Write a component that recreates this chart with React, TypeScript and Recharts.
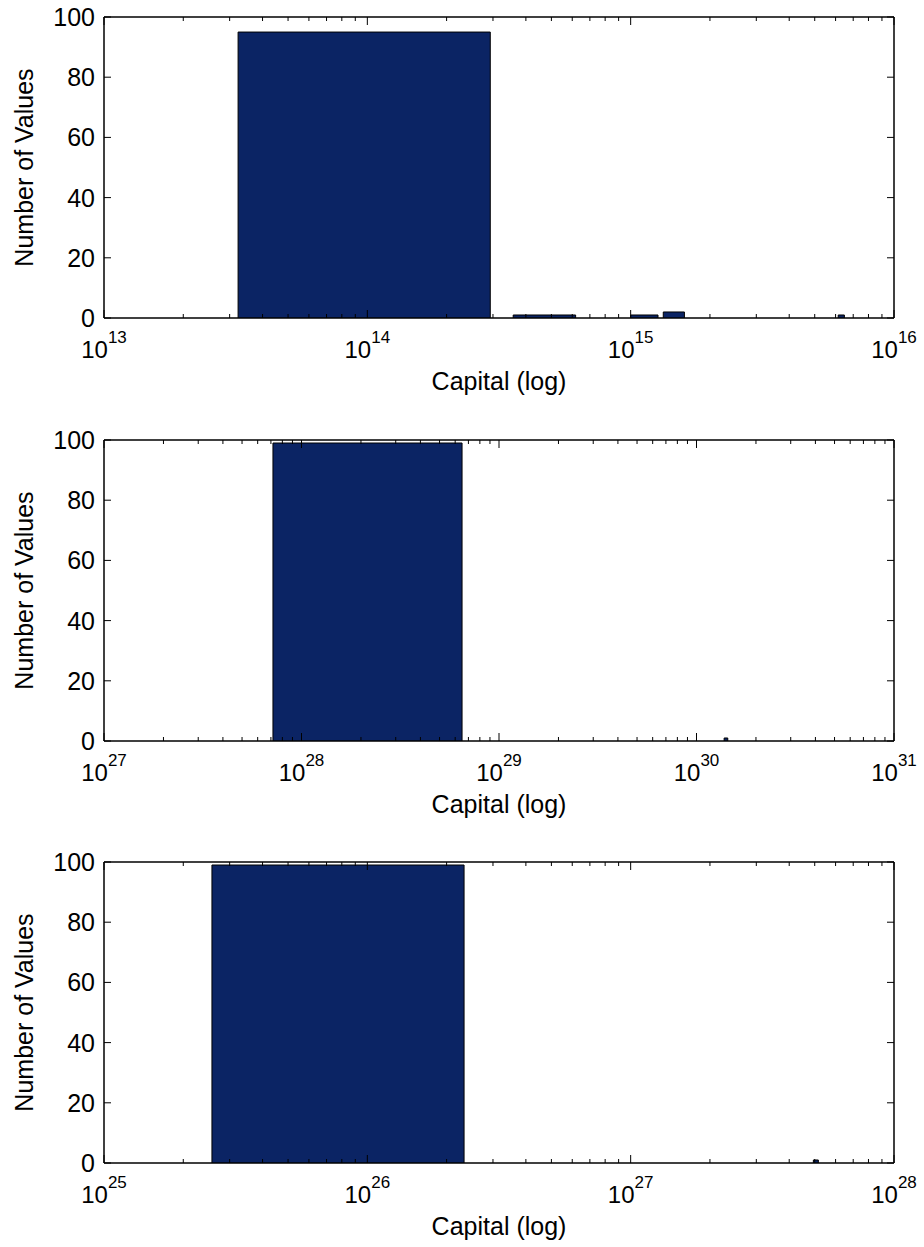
import React from 'react'
import { ComposedChart, XAxis, YAxis, Area } from 'recharts'

// bin edges (capital) and counts for each histogram
const topBinLo = [3.23e13, 3.58e14, 1.0e15, 1.33e15, 6.14e15]
const topBinHi = [2.93e14, 6.18e14, 1.27e15, 1.6e15, 6.48e15]
const topCounts = [95, 1, 1, 2, 1]
const topDecades = [13, 14, 15, 16]

const midBinLo = [7.17e27, 1.38e30]
const midBinHi = [6.5e28, 1.44e30]
const midCounts = [99, 1]
const midDecades = [27, 28, 29, 30, 31]

const lowBinLo = [2.57e25, 4.94e27]
const lowBinHi = [2.33e26, 5.16e27]
const lowCounts = [99, 1]
const lowDecades = [25, 26, 27, 28]

const countTicks = [0, 20, 40, 60, 80, 100]

const FONT = '"Liberation Sans", Arial, Helvetica, sans-serif'
const BAR = '#0b2464'
const FRAME = { stroke: '#000', strokeWidth: 1.5 }

type PanelProps = {
  top: number
  lo: number[]
  hi: number[]
  counts: number[]
  decades: number[]
}

function logTicks(decades: number[]) {
  const out: number[] = []
  decades.forEach((e, i) => {
    out.push(10 ** e)
    if (i < decades.length - 1) {
      for (let k = 2; k <= 9; k++) out.push(k * 10 ** e)
    }
  })
  return out
}

// outline of one histogram bar: up the left edge, across, down the right edge
function barOutline(lo: number, hi: number, count: number) {
  return [
    { x: lo, y: 0 },
    { x: lo, y: count },
    { x: hi, y: count },
    { x: hi, y: 0 },
  ]
}

function HistPanel({ top, lo, hi, counts, decades }: PanelProps) {
  const majors = decades.map(e => 10 ** e)
  const ticks = logTicks(decades)
  const domain = [majors[0], majors[majors.length - 1]]

  const bottomTick = (p: any) => {
    const idx = majors.indexOf(p.payload.value)
    const len = idx >= 0 ? 8 : 4
    return (
      <g>
        <line x1={p.x} x2={p.x} y1={p.y} y2={p.y - len} stroke="#000" />
        {idx >= 0 && (
          <text x={p.x} y={p.y + 40} textAnchor="middle" fontSize={24} fontFamily={FONT} fill="#000">
            10<tspan dy={-15} fontSize={17}>{decades[idx]}</tspan>
          </text>
        )}
      </g>
    )
  }
  const topTick = (p: any) => {
    const len = majors.indexOf(p.payload.value) >= 0 ? 8 : 4
    return <line x1={p.x} x2={p.x} y1={p.y} y2={p.y + len} stroke="#000" />
  }
  const leftTick = (p: any) => (
    <g>
      <line x1={p.x} x2={p.x + 7} y1={p.y} y2={p.y} stroke="#000" />
      <text x={p.x - 9} y={p.y + 9} textAnchor="end" fontSize={25} fontFamily={FONT} fill="#000">
        {p.payload.value}
      </text>
    </g>
  )
  const rightTick = (p: any) => <line x1={p.x} x2={p.x - 7} y1={p.y} y2={p.y} stroke="#000" />

  const xTitle = (p: any) => {
    const vb = p.viewBox
    return (
      <text x={vb.x + vb.width / 2} y={vb.y + 72} textAnchor="middle" fontSize={25} fontFamily={FONT} fill="#000">
        Capital (log)
      </text>
    )
  }
  const yTitle = (p: any) => {
    const vb = p.viewBox
    const cx = vb.x - 70
    const cy = vb.y + vb.height / 2
    return (
      <text x={cx} y={cy} transform={`rotate(-90 ${cx} ${cy})`} textAnchor="middle" fontSize={25} fontFamily={FONT} fill="#000">
        Number of Values
      </text>
    )
  }

  return (
    <div style={{ position: 'absolute', left: 0, top }}>
      <ComposedChart width={924} height={421} margin={{ top: 16, right: 29, bottom: 0, left: 103 }}>
        <XAxis
          dataKey="x" type="number" scale="log" domain={domain} allowDataOverflow ticks={ticks} interval={0}
          height={103} tickSize={0} tickMargin={0} tickLine={false} axisLine={FRAME} tick={bottomTick}
          label={{ content: xTitle }}
        />
        <XAxis
          xAxisId="top" orientation="top" dataKey="x" type="number" scale="log" domain={domain} allowDataOverflow
          ticks={ticks} interval={0} height={1} tickSize={0} tickMargin={0} tickLine={false} axisLine={FRAME} tick={topTick}
        />
        <YAxis
          type="number" domain={[0, 100]} allowDataOverflow ticks={countTicks} interval={0} width={1}
          tickSize={0} tickMargin={0} tickLine={false} axisLine={FRAME} tick={leftTick}
          label={{ content: yTitle }}
        />
        <YAxis
          yAxisId="right" orientation="right" type="number" domain={[0, 100]} allowDataOverflow ticks={countTicks}
          interval={0} width={1} tickSize={0} tickMargin={0} tickLine={false} axisLine={FRAME} tick={rightTick}
        />
        {lo.map((x1, i) => (
          <Area
            key={i} data={barOutline(x1, hi[i], counts[i])} dataKey="y" type="linear" baseValue={0}
            fill={BAR} fillOpacity={1} stroke="#000" strokeWidth={1} dot={false} activeDot={false}
            isAnimationActive={false}
          />
        ))}
      </ComposedChart>
    </div>
  )
}

export default function App() {
  return (
    <div style={{ position: 'absolute', left: 0, top: 0, width: 924, height: 1247, background: '#fff' }}>
      <HistPanel top={0} lo={topBinLo} hi={topBinHi} counts={topCounts} decades={topDecades} />
      <HistPanel top={423} lo={midBinLo} hi={midBinHi} counts={midCounts} decades={midDecades} />
      <HistPanel top={845} lo={lowBinLo} hi={lowBinHi} counts={lowCounts} decades={lowDecades} />
    </div>
  )
}
